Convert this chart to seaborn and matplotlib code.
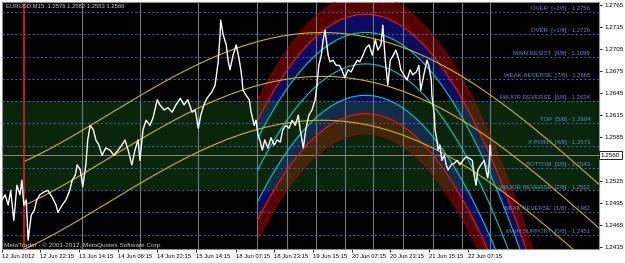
import numpy as np
import pandas as pd
import matplotlib
matplotlib.use("Agg")
import matplotlib.pyplot as plt
import seaborn as sns

sns.set_style("dark")
plt.rcParams['font.family'] = ['Liberation Sans Narrow', 'Liberation Sans', 'DejaVu Sans']

# ---------------- data ----------------
# time in M15-bar units from the first visible bar
bars = [0, 5, 10, 14, 19, 24, 29, 32, 35, 39, 42, 47, 52, 56, 61, 68, 74, 81, 87, 90,
        97, 103, 109, 113, 118, 121, 126, 130, 135, 138, 142, 147, 151, 156, 161, 167, 174, 180, 187, 193,
        198, 203, 209, 214, 219, 222, 227, 232, 238, 243, 250, 254, 261, 267, 274, 280, 287,
        293, 299, 306, 311, 316, 320, 325, 330, 338, 343, 348, 351, 352, 356, 361, 364, 367, 372, 377, 382,
        385, 388, 393, 398, 401, 406, 409, 412, 415, 419, 423, 428, 433, 438, 443, 448, 452, 457, 462, 467,
        472, 477, 480, 485, 489, 494, 499, 504, 507, 510, 514, 517, 520, 522, 525, 528, 533, 538, 543, 547,
        552, 557, 562, 567, 572, 576,
        581, 586, 591, 596, 601, 605, 610, 613, 617, 621, 625, 630, 634, 639, 642, 647, 652, 657, 661, 667,
        671, 674, 679, 684, 687, 691, 692, 696, 697, 700, 702, 705, 708, 712, 715, 718, 723, 728, 733, 737,
        742, 747, 752, 757, 760, 763, 766, 771, 776, 779, 782, 784, 786, 787]
price = [1.2499, 1.2506, 1.2492, 1.2512, 1.2471, 1.2519, 1.2506, 1.2526, 1.2492, 1.2499,
         1.2444, 1.2478, 1.2485, 1.2499, 1.2506, 1.2510, 1.2512, 1.2502, 1.2492, 1.2482,
         1.2492, 1.2499, 1.2512, 1.2526, 1.2533, 1.2547, 1.2540, 1.2517, 1.2547, 1.2581,
         1.2601, 1.2595, 1.2581, 1.2574, 1.2560, 1.2570, 1.2567, 1.2560, 1.2567, 1.2574,
         1.2581, 1.2567, 1.2547, 1.2567, 1.2581, 1.2553, 1.2595, 1.2608, 1.2601, 1.2611,
         1.2636, 1.2629, 1.2622, 1.2625, 1.2619, 1.2629, 1.2638,
         1.2629, 1.2636, 1.2619, 1.2622, 1.2597, 1.2615, 1.2629, 1.2638, 1.2647, 1.2656,
         1.2688, 1.2725, 1.2745, 1.2725, 1.2711, 1.2690, 1.2677, 1.2697, 1.2711, 1.2690,
         1.2674, 1.2649, 1.2642, 1.2636, 1.2619, 1.2601, 1.2608, 1.2588, 1.2581, 1.2567,
         1.2581, 1.2570, 1.2584, 1.2574, 1.2581, 1.2578, 1.2595, 1.2601, 1.2597, 1.2608,
         1.2601, 1.2615, 1.2595, 1.2570, 1.2595, 1.2615, 1.2622, 1.2636, 1.2656, 1.2683,
         1.2697, 1.2718, 1.2731, 1.2718, 1.2697, 1.2688, 1.2690, 1.2683, 1.2683, 1.2677,
         1.2666, 1.2677, 1.2674, 1.2683, 1.2690, 1.2688,
         1.2697, 1.2707, 1.2711, 1.2697, 1.2718, 1.2704, 1.2711, 1.2738, 1.2690, 1.2656,
         1.2690, 1.2697, 1.2704, 1.2690, 1.2677, 1.2670, 1.2663, 1.2677, 1.2670, 1.2674,
         1.2683, 1.2649, 1.2670, 1.2690, 1.2683, 1.2663, 1.2642, 1.2615, 1.2595, 1.2581,
         1.2567, 1.2574, 1.2553, 1.2560, 1.2547, 1.2540, 1.2547, 1.2549, 1.2553, 1.2547,
         1.2553, 1.2558, 1.2556, 1.2553, 1.2533, 1.2519, 1.2540, 1.2547, 1.2553, 1.2540,
         1.2529, 1.2547, 1.2574, 1.2560]

murrey_levels = [1.2756, 1.2726, 1.2695, 1.2665, 1.2634, 1.2604, 1.2573, 1.2543, 1.2512, 1.2482, 1.2451]
murrey_names = ["OVER  [+2/8]", "OVER  [+1/8]", "MAIN RESIST  [8/8]", "WEAK REVERSE  [7/8]",
                "MAJOR REVERSE  [6/8]", "TOP  [5/8]", "X POINT  [4/8]", "BOTTOM  [3/8]",
                "MAJOR REVERSE  [2/8]", "WEAK REVERSE  [1/8]", "MAIN SUPPORT  [0/8]"]
green_zone = (1.2512, 1.2634)
time_lines = [129, 222, 316, 411, 459, 506, 552, 597, 646, 694, 741, 786]
start_line = 35
bid = 1.2560
header = "EURUSD,M15  1.2576 1.2582 1.2553 1.2560"
footer = "MetaTrader - \u00a9 2001-2012, MetaQuotes Software Corp."

x_tick_bars = [0, 61, 124, 187, 249, 312, 377, 438, 501, 564, 625, 688, 750]
x_tick_labels = ["12 Jun 2012", "12 Jun 22:15", "13 Jun 14:15", "14 Jun 06:15", "14 Jun 22:15",
                 "15 Jun 14:15", "18 Jun 07:15", "18 Jun 23:15", "19 Jun 15:15", "20 Jun 07:15",
                 "20 Jun 23:15", "21 Jun 15:15", "22 Jun 07:15"]
y_ticks = [1.2765, 1.2735, 1.2705, 1.2675, 1.2645, 1.2615, 1.2585, 1.2525, 1.2495, 1.2465, 1.2435]

# yellow polynomial regression channel (centre points)
yel_t = [37, 287, 448, 512, 576, 721, 866]
yel_p = [1.2492, 1.2612, 1.2664, 1.2667, 1.2663, 1.2618, 1.2530]
yel_width = 0.0060
yel_start = 35

# coloured parabolic channel (centre points) and band offsets
arc_t = [411, 586, 763]
arc_p = [1.2539, 1.2685, 1.2533]
arc_offsets = [0.0043, 0.0068, 0.0096]
arc_start = 411

X_END = 961
Y_LIM = (1.24318, 1.27697)
FS = 4.2

# ---------------- figure ----------------
fig = plt.figure(figsize=(6.25, 2.63), dpi=100, facecolor='white')
ax = fig.add_axes([2 / 625, 14 / 263, 597 / 625, 247 / 263])
ax.set_facecolor('black')
ax.grid(False)

# coloured channel bands
ta = np.linspace(arc_start, X_END, 500)
ca = np.polyval(np.polyfit(arc_t, arc_p, 2), ta)
o1, o2, o3 = arc_offsets
ax.fill_between(ta, ca + o2, ca + o3, color='#560000', lw=0, zorder=1)
ax.fill_between(ta, ca - o3, ca - o2, color='#560000', lw=0, zorder=1)
ax.fill_between(ta, ca + o1, ca + o2, color='#0b0b62', lw=0, zorder=1)
ax.fill_between(ta, ca - o2, ca - o1, color='#0b0b62', lw=0, zorder=1)

# green zone (drawn semi-transparent over the bands)
ax.axhspan(green_zone[0], green_zone[1], color='#1e6e1e', alpha=0.35, lw=0, zorder=2)

# vertical time lines and bid line
for t in time_lines:
    ax.axvline(t, color='#6e7b7b', lw=0.8, zorder=3)
ax.axhline(bid, color='#8a8a8a', lw=0.7, zorder=3)

# murrey math dashed levels
for lvl, name in zip(murrey_levels, murrey_names):
    ax.axhline(lvl, color='#3a5fb8', lw=0.7, ls=(0, (2.2, 2.2)), zorder=3)
    ax.annotate(f"{name} - {lvl:.4f}", xy=(0.985, lvl),
                xycoords=ax.get_yaxis_transform(), xytext=(0, 0.6), textcoords='offset points',
                ha='right', va='bottom', fontsize=4.3, color='#5b8bd6', zorder=7)

# channel lines
for s in (1, -1):
    ax.plot(ta, ca + s * o3, color='#a00000', lw=0.5, zorder=4)
    ax.plot(ta, ca + s * o2, color='#ff1010', lw=0.8, zorder=4)
    ax.plot(ta, ca + s * o1, color='#00c8d0', lw=0.8, zorder=4)
ax.plot(ta, ca, color='#00c8d0', lw=0.8, zorder=4)

# yellow channel
ty = np.linspace(yel_start, X_END, 500)
cy = np.polyval(np.polyfit(yel_t, yel_p, 4), ty)
for s in (1, 0, -1):
    ax.plot(ty, cy + s * yel_width, color='#d4b400', lw=0.8, zorder=4)

# red start line
ax.axvline(start_line, color='#ff1a1a', lw=1.1, zorder=5)

# price line
df = pd.DataFrame({'bar': bars, 'price': price})
sns.lineplot(data=df, x='bar', y='price', ax=ax, color='white', lw=1.0,
             estimator=None, sort=False, zorder=6)

ax.set_xlim(0, X_END)
ax.set_ylim(*Y_LIM)
ax.set_xlabel('')
ax.set_ylabel('')

# axes/ticks
ax.yaxis.tick_right()
ax.set_yticks(y_ticks)
ax.set_yticklabels([f"{v:.4f}" for v in y_ticks])
ax.tick_params(axis='y', length=2.5, width=0.6, pad=1.5, labelsize=FS + 0.3, colors='black', right=True, left=False)
ax.set_xticks(x_tick_bars)
ax.set_xticklabels(x_tick_labels)
ax.tick_params(axis='x', length=2.5, width=0.6, pad=1.2, labelsize=FS, colors='black', bottom=True)
for lab in ax.get_xticklabels():
    lab.set_ha('left')
for sp in ax.spines.values():
    sp.set_color('#909090')
    sp.set_linewidth(0.8)

# bid label box
ax.text(1.003, bid, f"{bid:.4f}", transform=ax.get_yaxis_transform(), ha='left', va='center',
        fontsize=FS + 0.3, color='black', clip_on=False, zorder=10,
        bbox=dict(boxstyle='square,pad=0.25', fc='white', ec='black', lw=0.6))

# header / footer
ax.text(0.006, 0.994, header, transform=ax.transAxes, ha='left', va='top', fontsize=FS,
        color='#d0d0d0', zorder=10)
ax.text(0.003, 0.004, footer, transform=ax.transAxes, ha='left', va='bottom', fontsize=4.6,
        color='#c8c8c8', zorder=10)

fig.savefig('out.png', dpi=100, facecolor='white')
